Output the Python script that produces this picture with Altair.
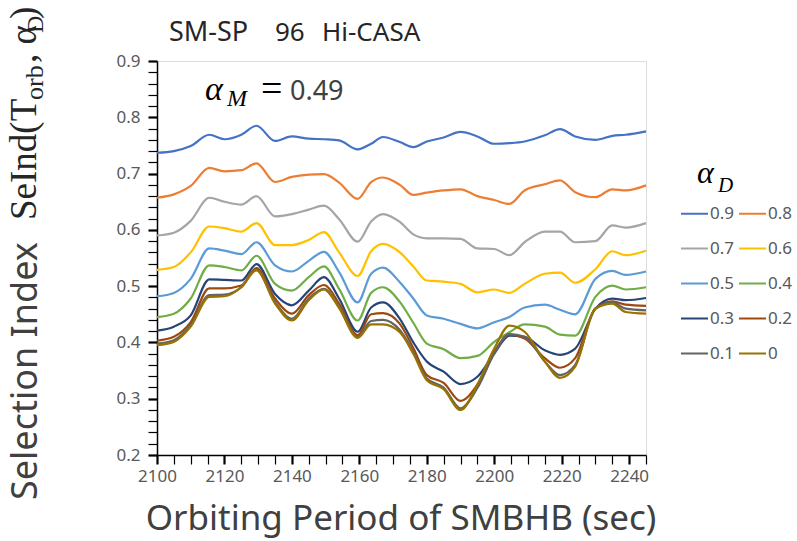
import altair as alt
import pandas as pd

# ---------------- data ----------------
X = [2100, 2105, 2110, 2115.5, 2120, 2125, 2129.5, 2135, 2140, 2145, 2149.5, 2154,
     2159.5, 2163.5, 2167, 2172, 2176, 2180, 2185, 2190, 2195, 2200, 2204.5, 2209,
     2215, 2219.5, 2224, 2230, 2235, 2239, 2245]

SERIES = ["0.9", "0.8", "0.7", "0.6", "0.5", "0.4", "0.3", "0.2", "0.1", "0"]
COLORS = ["#4472C4", "#ED7D31", "#A5A5A5", "#FFC000", "#5B9BD5",
          "#70AD47", "#264478", "#9E480E", "#636363", "#997300"]

S09 = [.737, .740, .749, .769, .761, .769, .785, .758, .766, .762, .761, .759, .743, .753, .765, .756,
       .747, .757, .764, .774, .766, .753, .754, .757, .768, .779, .766, .760, .767, .769, .775]
S08 = [.657, .663, .678, .710, .704, .706, .718, .685, .694, .698, .699, .684, .655, .685, .693, .680,
       .662, .666, .670, .672, .660, .653, .646, .670, .681, .688, .667, .658, .672, .670, .679]
S07 = [.590, .595, .616, .657, .650, .645, .660, .624, .628, .636, .643, .619, .579, .615, .628, .614,
       .592, .585, .585, .584, .567, .566, .555, .578, .597, .597, .578, .580, .608, .604, .612]
S06 = [.529, .534, .560, .606, .603, .597, .612, .573, .573, .582, .596, .560, .518, .562, .575, .560,
       .535, .510, .508, .504, .489, .494, .488, .504, .522, .524, .506, .530, .562, .555, .563]
S05 = [.482, .488, .513, .567, .563, .557, .578, .537, .526, .545, .561, .525, .471, .522, .533, .507,
       .478, .448, .442, .433, .425, .436, .445, .462, .467, .458, .450, .513, .527, .520, .526]
S04 = [.445, .451, .478, .537, .534, .528, .554, .504, .492, .516, .535, .495, .439, .488, .498, .472,
       .435, .398, .388, .372, .376, .401, .418, .432, .428, .414, .412, .481, .501, .494, .498]
S03 = [.421, .428, .448, .512, .511, .510, .539, .486, .466, .492, .516, .478, .419, .462, .471, .442,
       .400, .366, .348, .326, .339, .380, .412, .410, .386, .378, .389, .460, .478, .475, .479]
S02 = [.403, .410, .436, .496, .496, .501, .532, .478, .451, .484, .502, .469, .413, .450, .452, .433,
       .390, .342, .328, .296, .325, .383, .414, .407, .372, .355, .372, .460, .473, .467, .465]
S01 = [.398, .404, .431, .484, .485, .498, .529, .472, .442, .478, .495, .463, .410, .438, .440, .422,
       .383, .336, .320, .283, .319, .380, .415, .410, .366, .342, .360, .460, .471, .460, .457]
S00 = [.395, .401, .428, .481, .482, .498, .528, .469, .439, .475, .494, .461, .408, .432, .432, .418,
       .380, .333, .317, .280, .325, .389, .430, .419, .366, .337, .357, .460, .469, .454, .451]

VALUES = [S09, S08, S07, S06, S05, S04, S03, S02, S01, S00]

X_TICKS = list(range(2100, 2246, 5))
Y_TICKS = [round(0.2 + 0.02 * i, 2) for i in range(36)]

rows = []
for name, vals in zip(SERIES, VALUES):
    for xv, yv in zip(X, vals):
        rows.append({"x": xv, "y": yv, "series": name})
df = pd.DataFrame(rows)

# ---------------- layout ----------------
W, H = 489, 394
SANS = "Noto Sans"
SERIF = "Liberation Serif"
TICK_COLOR = "#595959"

major_y = "abs(datum.value*10 - round(datum.value*10)) < 0.000001"
major_x = "datum.value % 20 == 0"

y_axis = alt.Axis(
    values=Y_TICKS, title=None, grid=False,
    labelExpr=f"({major_y}) ? format(datum.value, '.1f') : ''",
    tickWidth={"condition": {"test": major_y, "value": 2.2}, "value": 1.2},
    tickSize=9, tickColor="black", domainColor="black", domainWidth=1.5,
    labelFont=SANS, labelFontSize=17, labelColor=TICK_COLOR, labelPadding=8,
    labelOverlap=False, labelFlush=False,
)
x_axis = alt.Axis(
    values=X_TICKS, title=None, grid=False,
    labelExpr=f"({major_x}) ? format(datum.value, 'd') : ''",
    tickWidth={"condition": {"test": major_x, "value": 2.2}, "value": 1.2},
    tickSize=9, tickColor="black", domainColor="black", domainWidth=1.5,
    labelFont=SANS, labelFontSize=17, labelColor=TICK_COLOR, labelPadding=4,
    labelOverlap=False, labelFlush=False,
)

lines = alt.Chart(df).mark_line(interpolate="monotone", strokeWidth=2.2).encode(
    x=alt.X("x:Q", scale=alt.Scale(domain=[2100, 2245], nice=False, zero=False), axis=x_axis),
    y=alt.Y("y:Q", scale=alt.Scale(domain=[0.2, 0.9], nice=False, zero=False), axis=y_axis),
    color=alt.Color(
        "series:N",
        scale=alt.Scale(domain=SERIES, range=COLORS),
        sort=SERIES,
        legend=alt.Legend(
            orient="none", legendX=523, legendY=138, columns=2, direction="horizontal",
            title=None, symbolType="stroke", symbolSize=729, symbolStrokeWidth=2,
            labelFont=SANS, labelFontSize=17, labelColor=TICK_COLOR,
            rowPadding=12, columnPadding=0, labelOffset=1,
        ),
    ),
    detail="series:N",
)


def label(text, x, y, size, font=SANS, color="#262626", style="normal",
          angle=0, align="left", baseline="alphabetic"):
    kw = dict(font=font, fontSize=size, color=color, fontStyle=style,
              align=align, baseline=baseline)
    if angle:
        kw["angle"] = angle
    return alt.Chart(pd.DataFrame({"t": [text]})).mark_text(**kw).encode(
        text="t:N", x=alt.value(x), y=alt.value(y))


texts = [
    # title
    label("SM-SP", 12, -20, 27),
    label("96", 118, -20, 26),
    label("Hi-CASA", 165, -20, 26),
    # alpha_M annotation
    label("α", 48, 39, 34, font=SERIF, color="black", style="italic"),
    label("M", 70, 45, 24, font=SERIF, color="black", style="italic"),
    label("=", 104, 40, 38, font=SERIF, color="black"),
    label("0.49", 133, 39, 27, color="#404040"),
    # legend title alpha_D
    label("α", 540, 122, 32, font=SERIF, color="black", style="italic"),
    label("D", 561, 131, 21, font=SERIF, color="black", style="italic"),
    # x axis title
    label("Orbiting Period of SMBHB (sec)", 244, 469, 35, color="#404040", align="center"),
    # y axis title (rotated pieces)
    label("Selection Index", -120, 439, 36, color="#404040", angle=270),
    label("SeInd(T", -121, 159, 37, font=SERIF, color="#262626", angle=270),
    label("orb", -114, 39, 26, font=SERIF, color="#262626", angle=270),
    label(", α", -121, 2, 37, font=SERIF, color="#262626", angle=270),
    label("D", -114, -28, 24, font=SERIF, color="#262626", angle=270),
    label(")", -121, -42, 37, font=SERIF, color="#262626", angle=270),
]

chart = alt.layer(lines, *texts).properties(
    width=W, height=H,
    padding={"left": 157, "top": 61, "right": 797 - 157 - W, "bottom": 541 - 61 - H},
    autosize="none",
).configure_view(stroke="#595959", strokeWidth=1.5).configure(background="white")

chart.save("out.html", embed_options={"renderer": "svg", "actions": False})
